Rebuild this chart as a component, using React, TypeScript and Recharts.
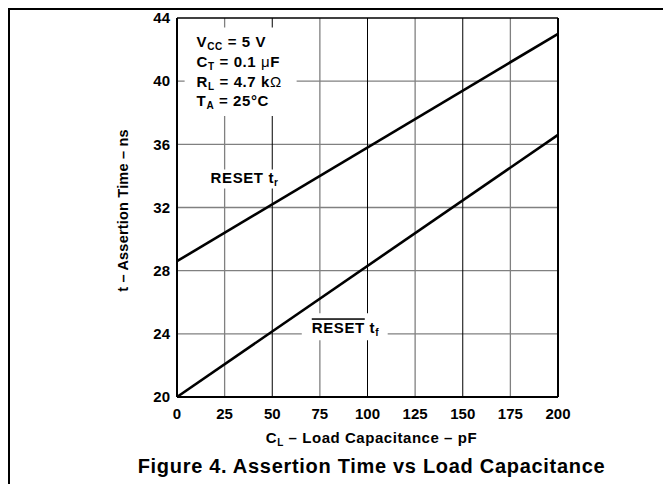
import React from 'react';
import {
  LineChart,
  Line,
  XAxis,
  YAxis,
  CartesianGrid,
  ReferenceArea,
  ReferenceLine,
} from 'recharts';

// ---- Data ----
const loadCapacitance = [0, 200]; // pF
const resetRise = [28.6, 43.0]; // ns, RESET t_r
const resetFall = [20.0, 36.6]; // ns, RESET-bar t_f
const xTicks = [0, 25, 50, 75, 100, 125, 150, 175, 200];
const yTicks = [20, 24, 28, 32, 36, 40, 44];
const yGrid = [24, 28, 32, 36, 40];
const xMinorGrid = [25, 75, 125, 175];
const xMajorGrid = [50, 100, 150];

const data = loadCapacitance.map((c, i) => ({
  c,
  rise: resetRise[i],
  fall: resetFall[i],
}));

const FONT = '"Liberation Sans", Arial, Helvetica, sans-serif';
const LS = 0.6;

const conditionsLabel = (props: any) => {
  const vb = props.viewBox || {};
  const x = vb.x + 12;
  const y = vb.y;
  return (
    <g fontFamily={FONT} fontWeight="bold" fontSize={15} fill="#000" letterSpacing={LS}>
      <text x={x} y={y + 20}>
        <tspan>V</tspan>
        <tspan dy={3} fontSize={10}>CC</tspan>
        <tspan dy={-3}> = 5 V</tspan>
      </text>
      <text x={x} y={y + 40}>
        <tspan>C</tspan>
        <tspan dy={3} fontSize={10}>T</tspan>
        <tspan dy={-3}> = 0.1 </tspan>
        <tspan fontWeight="normal">μ</tspan>
        <tspan>F</tspan>
      </text>
      <text x={x} y={y + 60}>
        <tspan>R</tspan>
        <tspan dy={3} fontSize={10}>L</tspan>
        <tspan dy={-3}> = 4.7 k</tspan>
        <tspan fontWeight="normal">Ω</tspan>
      </text>
      <text x={x} y={y + 79}>
        <tspan>T</tspan>
        <tspan dy={3} fontSize={10}>A</tspan>
        <tspan dy={-3}> = 25°C</tspan>
      </text>
    </g>
  );
};

const riseLabel = (props: any) => {
  const vb = props.viewBox || {};
  return (
    <text
      x={vb.x + 6}
      y={vb.y + 13.5}
      fontFamily={FONT}
      fontWeight="bold"
      fontSize={15}
      letterSpacing={LS}
      fill="#000"
    >
      <tspan>RESET t</tspan>
      <tspan dy={3} fontSize={10}>r</tspan>
    </text>
  );
};

const fallLabel = (props: any) => {
  const vb = props.viewBox || {};
  return (
    <text
      x={vb.x + 10}
      y={vb.y + 20}
      fontFamily={FONT}
      fontWeight="bold"
      fontSize={15}
      letterSpacing={LS}
      fill="#000"
    >
      <tspan style={{ textDecoration: 'overline' }}>RESET</tspan>
      <tspan> t</tspan>
      <tspan dy={3} fontSize={10}>f</tspan>
    </text>
  );
};

const xAxisLabel = (props: any) => {
  const vb = props.viewBox || {};
  const cx = vb.x + vb.width / 2 + 4;
  const by = vb.y + vb.height;
  return (
    <g fontFamily={FONT} fontWeight="bold" fill="#000">
      <text x={cx} y={by + 16} textAnchor="middle" fontSize={15} letterSpacing={0.55}>
        <tspan>C</tspan>
        <tspan dy={3} fontSize={10}>L</tspan>
        <tspan dy={-3}> – Load Capacitance – pF</tspan>
      </text>
      <text x={cx} y={by + 46} textAnchor="middle" fontSize={20} letterSpacing={0.7}>
        Figure 4. Assertion Time vs Load Capacitance
      </text>
    </g>
  );
};

const yAxisLabel = (props: any) => {
  const vb = props.viewBox || {};
  const cx = vb.x + 6;
  const cy = vb.y + vb.height / 2 + 3;
  return (
    <text
      x={cx}
      y={cy}
      transform={`rotate(-90, ${cx}, ${cy})`}
      textAnchor="middle"
      dominantBaseline="central"
      fontFamily={FONT}
      fontWeight="bold"
      fontSize={14.5}
      letterSpacing={0.2}
      fill="#000"
    >
      t – Assertion Time – ns
    </text>
  );
};

const tickStyle = {
  fontFamily: FONT,
  fontWeight: 'bold' as const,
  fontSize: 15,
  fill: '#000',
};

export default function App() {
  return (
    <div
      style={{
        position: 'relative',
        boxSizing: 'border-box',
        width: 663,
        height: 476,
        borderTop: '2px solid #000',
        borderLeft: '2px solid #000',
        background: '#fff',
      }}
    >
      <LineChart
        width={661}
        height={474}
        data={data}
        margin={{ top: 8, right: 113, bottom: 57, left: 107 }}
      >
        <CartesianGrid
          stroke="#808080"
          strokeWidth={1.3}
          verticalValues={xMinorGrid}
          horizontalValues={yGrid}
        />
        <CartesianGrid
          stroke="#000"
          strokeWidth={1}
          horizontal={false}
          verticalValues={xMajorGrid}
        />
        <XAxis
          type="number"
          dataKey="c"
          domain={[0, 200]}
          ticks={xTicks}
          interval={0}
          tickLine={false}
          tickMargin={5}
          height={30}
          axisLine={{ stroke: '#000', strokeWidth: 2 }}
          tick={tickStyle}
          label={xAxisLabel}
        />
        <YAxis
          type="number"
          domain={[20, 44]}
          ticks={yTicks}
          interval={0}
          tickLine={false}
          tickMargin={1}
          width={60}
          axisLine={{ stroke: '#000', strokeWidth: 2 }}
          tick={tickStyle}
          label={yAxisLabel}
        />
        <ReferenceLine x={200} stroke="#000" strokeWidth={2} />
        <ReferenceLine y={44} stroke="#000" strokeWidth={1.5} />
        <ReferenceArea
          x1={4}
          x2={62.8}
          y1={37.8}
          y2={43.4}
          fill="#fff"
          fillOpacity={1}
          stroke="none"
          label={conditionsLabel}
        />
        <ReferenceArea
          x1={14.5}
          x2={56.5}
          y1={33.2}
          y2={34.4}
          fill="#fff"
          fillOpacity={1}
          stroke="none"
          label={riseLabel}
        />
        <ReferenceArea
          x1={65.5}
          x2={110.6}
          y1={23.6}
          y2={25.3}
          fill="#fff"
          fillOpacity={1}
          stroke="none"
          label={fallLabel}
        />
        <Line
          type="linear"
          dataKey="rise"
          stroke="#000"
          strokeWidth={2.6}
          dot={false}
          activeDot={false}
          isAnimationActive={false}
        />
        <Line
          type="linear"
          dataKey="fall"
          stroke="#000"
          strokeWidth={2.6}
          dot={false}
          activeDot={false}
          isAnimationActive={false}
        />
      </LineChart>
    </div>
  );
}
